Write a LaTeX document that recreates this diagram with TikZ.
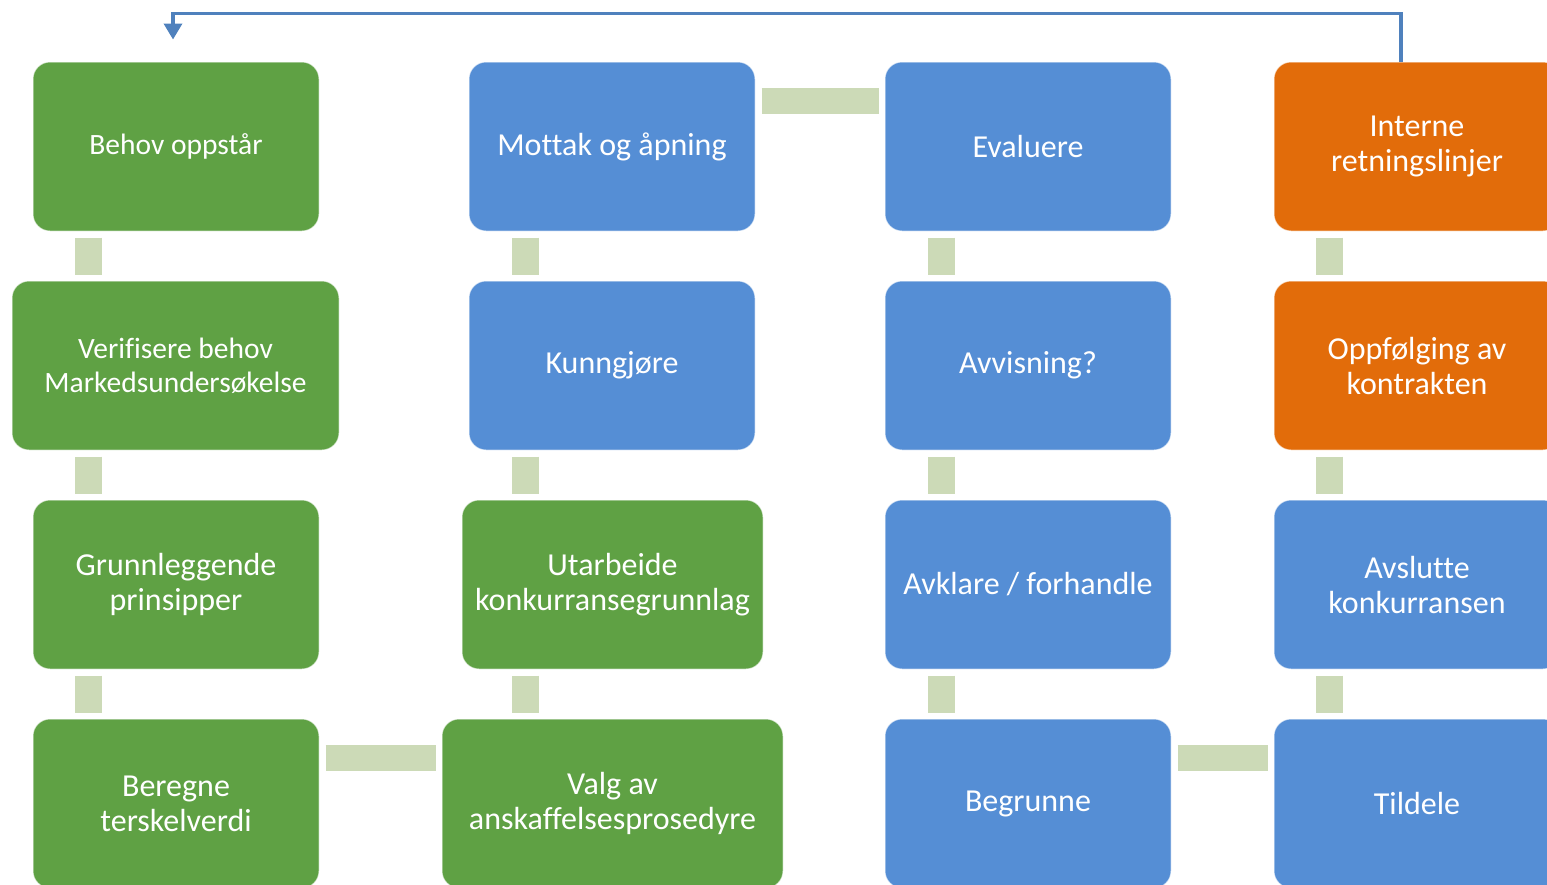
\documentclass[tikz,border=0pt]{standalone}
\usepackage{fontspec}
\setmainfont{Carlito}[Ligatures=CommonOff]
\usetikzlibrary{arrows.meta}
\definecolor{stepgreen}{RGB}{95,161,68}
\definecolor{stepblue}{RGB}{85,142,213}
\definecolor{steporange}{RGB}{226,108,10}
\definecolor{linkgreen}{RGB}{204,218,183}
\definecolor{loopblue}{RGB}{79,129,189}
\begin{document}
\begin{tikzpicture}[x=1pt, y=-1pt,
    box/.style={rectangle, rounded corners=17pt, minimum width=286pt, minimum height=169pt,
      inner sep=0pt, draw=white, draw opacity=0.6, line width=1pt, text=white, align=center,
      font=\fontsize{32}{35}\selectfont},
    smalltext/.style={font=\fontsize{29.5}{34}\selectfont},
    gbox/.style={box, fill=stepgreen},
    bbox/.style={box, fill=stepblue},
    obox/.style={box, fill=steporange},
    vlink/.style={draw=linkgreen, line width=27pt},
    hlink/.style={draw=linkgreen, line width=26pt},
    loopback/.style={draw=loopblue, line width=3.5pt, -{Triangle[width=18pt,length=16pt]}}]
  \useasboundingbox (0,0) rectangle (1547,884);
  \clip (0,0) rectangle (1547,884);
  \begin{scope}
    \node[gbox, smalltext] (b1) at (176,146.5) {Behov oppstår};
    \node[gbox, smalltext, minimum width=327pt] (b2) at (175.5,365.5) {Verifisere behov\\Markedsundersøkelse};
    \node[gbox] (b3) at (176,584.5) {Grunnleggende\\prinsipper};
    \node[gbox] (b4) at (176,803.5) {Beregne\\terskelverdi};
    \node[bbox] (c1) at (612,146.5) {Mottak og åpning};
    \node[bbox] (c2) at (612,365.5) {Kunngjøre};
    \node[gbox, minimum width=301pt] (c3) at (612.5,584.5) {Utarbeide\\konkurransegrunnlag};
    \node[gbox, minimum width=341pt] (c4) at (612.5,803.5) {Valg av\\anskaffelsesprosedyre};
    \node[bbox] (d1) at (1028,146.5) {Evaluere};
    \node[bbox] (d2) at (1028,365.5) {Avvisning?};
    \node[bbox] (d3) at (1028,584.5) {Avklare / forhandle};
    \node[bbox] (d4) at (1028,803.5) {Begrunne};
    \node[obox] (e1) at (1417,146.5) {Interne\\retningslinjer};
    \node[obox] (e2) at (1417,365.5) {Oppfølging av\\kontrakten};
    \node[bbox] (e3) at (1417,584.5) {Avslutte\\konkurransen};
    \node[bbox] (e4) at (1417,803.5) {Tildele};
  \end{scope}
  \foreach \c/\dx in {b/55.5, c/56.5, d/56.5, e/55.5}
    \foreach \i/\j in {1/2, 2/3, 3/4}
      \draw[vlink] ([shift={(\dx pt,-6pt)}]\c1.west |- \c\i.south)
        -- ([shift={(\dx pt,6pt)}]\c1.west |- \c\j.north);
  \draw[hlink] ([shift={(6pt,-39pt)}]b4.north east) -- ([shift={(-6pt,-39pt)}]c4.north west);
  \draw[hlink] ([shift={(6pt,-39pt)}]c1.north east) -- ([shift={(-6pt,-39pt)}]d1.north west);
  \draw[hlink] ([shift={(6pt,-39pt)}]d4.north east) -- ([shift={(-6pt,-39pt)}]e4.north west);
  \draw[loopback] ([xshift=-16pt]e1.north) -- ++(0,-48) -| ([shift={(-3pt,22pt)}]b1.north);
\end{tikzpicture}
\end{document}
